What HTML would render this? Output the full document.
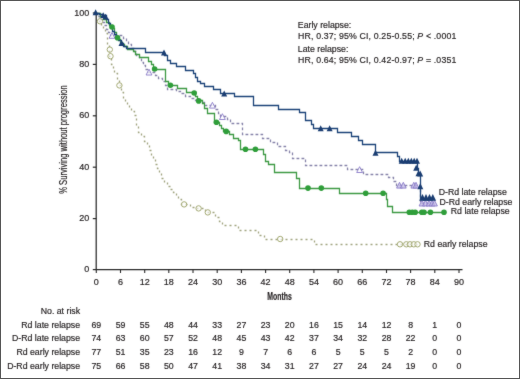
<!DOCTYPE html>
<html><head><meta charset="utf-8"><style>
html,body{margin:0;padding:0;background:#fff;}
svg{display:block;}
text{font-family:"Liberation Sans",sans-serif;font-size:8.75px;fill:#231f20;stroke:#231f20;stroke-width:0.18px;}
</style></head><body>
<svg width="520" height="379" viewBox="0 0 520 379">
<defs><filter id="bl" x="0" y="0" width="520" height="379" filterUnits="userSpaceOnUse" color-interpolation-filters="sRGB"><feConvolveMatrix order="3" kernelMatrix="0.015 0.06 0.015 0.06 0.7 0.06 0.015 0.06 0.015" edgeMode="duplicate"/></filter></defs>
<g filter="url(#bl)">
<rect x="0" y="0" width="520" height="379" fill="#fff"/>
<path d="M96.2,13 V269.5 H462.5" fill="none" stroke="#2a2a2a" stroke-width="1.25"/>
<path d="M92.8,13.0 H96.2" stroke="#2a2a2a" stroke-width="1.2"/>
<text x="89.2" y="15.6" text-anchor="end" style="font-size:9px">100</text>
<path d="M92.8,64.4 H96.2" stroke="#2a2a2a" stroke-width="1.2"/>
<text x="89.2" y="67.0" text-anchor="end" style="font-size:9px">80</text>
<path d="M92.8,115.8 H96.2" stroke="#2a2a2a" stroke-width="1.2"/>
<text x="89.2" y="118.4" text-anchor="end" style="font-size:9px">60</text>
<path d="M92.8,167.2 H96.2" stroke="#2a2a2a" stroke-width="1.2"/>
<text x="89.2" y="169.8" text-anchor="end" style="font-size:9px">40</text>
<path d="M92.8,218.6 H96.2" stroke="#2a2a2a" stroke-width="1.2"/>
<text x="89.2" y="221.2" text-anchor="end" style="font-size:9px">20</text>
<path d="M92.8,269.6 H96.2" stroke="#2a2a2a" stroke-width="1.2"/>
<text x="89.2" y="272.2" text-anchor="end" style="font-size:9px">0</text>
<path d="M96.3,270 V273" stroke="#2a2a2a" stroke-width="1.1"/>
<text x="96.3" y="285.2" text-anchor="middle" style="font-size:9px">0</text>
<path d="M120.5,270 V273" stroke="#2a2a2a" stroke-width="1.1"/>
<text x="120.5" y="285.2" text-anchor="middle" style="font-size:9px">6</text>
<path d="M144.7,270 V273" stroke="#2a2a2a" stroke-width="1.1"/>
<text x="144.7" y="285.2" text-anchor="middle" style="font-size:9px">12</text>
<path d="M168.8,270 V273" stroke="#2a2a2a" stroke-width="1.1"/>
<text x="168.8" y="285.2" text-anchor="middle" style="font-size:9px">18</text>
<path d="M193.0,270 V273" stroke="#2a2a2a" stroke-width="1.1"/>
<text x="193.0" y="285.2" text-anchor="middle" style="font-size:9px">24</text>
<path d="M217.2,270 V273" stroke="#2a2a2a" stroke-width="1.1"/>
<text x="217.2" y="285.2" text-anchor="middle" style="font-size:9px">30</text>
<path d="M241.4,270 V273" stroke="#2a2a2a" stroke-width="1.1"/>
<text x="241.4" y="285.2" text-anchor="middle" style="font-size:9px">36</text>
<path d="M265.6,270 V273" stroke="#2a2a2a" stroke-width="1.1"/>
<text x="265.6" y="285.2" text-anchor="middle" style="font-size:9px">42</text>
<path d="M289.7,270 V273" stroke="#2a2a2a" stroke-width="1.1"/>
<text x="289.7" y="285.2" text-anchor="middle" style="font-size:9px">48</text>
<path d="M313.9,270 V273" stroke="#2a2a2a" stroke-width="1.1"/>
<text x="313.9" y="285.2" text-anchor="middle" style="font-size:9px">54</text>
<path d="M338.1,270 V273" stroke="#2a2a2a" stroke-width="1.1"/>
<text x="338.1" y="285.2" text-anchor="middle" style="font-size:9px">60</text>
<path d="M362.3,270 V273" stroke="#2a2a2a" stroke-width="1.1"/>
<text x="362.3" y="285.2" text-anchor="middle" style="font-size:9px">66</text>
<path d="M386.5,270 V273" stroke="#2a2a2a" stroke-width="1.1"/>
<text x="386.5" y="285.2" text-anchor="middle" style="font-size:9px">72</text>
<path d="M410.6,270 V273" stroke="#2a2a2a" stroke-width="1.1"/>
<text x="410.6" y="285.2" text-anchor="middle" style="font-size:9px">78</text>
<path d="M434.8,270 V273" stroke="#2a2a2a" stroke-width="1.1"/>
<text x="434.8" y="285.2" text-anchor="middle" style="font-size:9px">84</text>
<path d="M459.0,270 V273" stroke="#2a2a2a" stroke-width="1.1"/>
<text x="459.0" y="285.2" text-anchor="middle" style="font-size:9px">90</text>
<text x="267.3" y="299.6" style="font-size:10.6px" font-weight="bold" textLength="24.5" lengthAdjust="spacingAndGlyphs" fill="#222">Months</text>
<text transform="translate(66.6,193.8) rotate(-90)" x="0" y="0" style="font-size:11px" textLength="108.5" lengthAdjust="spacingAndGlyphs" fill="#2a2a2a" stroke="#2a2a2a" stroke-width="0.3">% Surviving without progression</text>
<text x="297.8" y="27.6">Early relapse:</text>
<text x="298" y="38.6" textLength="158.3">HR, 0.37; 95% CI, 0.25-0.55; <tspan font-style="italic">P</tspan> &lt; .0001</text>
<text x="297.8" y="52">Late relapse:</text>
<text x="298" y="62.5" textLength="158.3">HR, 0.64; 95% CI, 0.42-0.97; <tspan font-style="italic">P</tspan> = .0351</text>
<polyline points="96.5,13.5 97.5,13.5 97.5,16.5 99.5,16.5 99.5,21.5 101.5,21.5 101.5,26.5 103.5,26.5 103.5,29.5 105.5,29.5 105.5,33.5 107.5,33.5 107.5,45.5 109.5,45.5 109.5,56.5 111.5,56.5 111.5,64.5 113.5,64.5 113.5,69.5 114.5,69.5 114.5,73.5 117.5,73.5 117.5,79.5 119.5,79.5 119.5,85.5 121.5,85.5 121.5,92.5 123.5,92.5 123.5,99.5 125.5,99.5 125.5,102.5 127.5,102.5 127.5,105.5 129.5,105.5 129.5,108.5 131.5,108.5 131.5,111.5 134.5,111.5 134.5,115.5 136.5,115.5 136.5,125.5 138.5,125.5 138.5,132.5 141.5,132.5 141.5,136.5 144.5,136.5 144.5,141.5 147.5,141.5 147.5,145.5 149.5,145.5 149.5,150.5 151.5,150.5 151.5,155.5 153.5,155.5 153.5,159.5 155.5,159.5 155.5,164.5 157.5,164.5 157.5,168.5 159.5,168.5 159.5,173.5 161.5,173.5 161.5,178.5 164.5,178.5 164.5,182.5 167.5,182.5 167.5,186.5 170.5,186.5 170.5,189.5 173.5,189.5 173.5,192.5 176.5,192.5 176.5,196.5 178.5,196.5 178.5,199.5 181.5,199.5 181.5,204.5 190.5,204.5 190.5,207.5 196.5,207.5 196.5,208.5 205.5,208.5 205.5,212.5 215.5,212.5 215.5,217.5 219.5,217.5 219.5,221.5 222.5,221.5 222.5,225.5 238.5,225.5 238.5,230.5 258.5,230.5 258.5,235.5 264.5,235.5 264.5,239.5 314.5,239.5 314.5,244.5 420.5,244.5" fill="none" stroke="#a2a581" stroke-width="1.35" stroke-dasharray="2 3"/>
<polyline points="96.5,13.5 98.5,13.5 98.5,16.5 100.5,16.5 100.5,19.5 102.5,19.5 102.5,22.5 104.5,22.5 104.5,25.5 106.5,25.5 106.5,29.5 108.5,29.5 108.5,32.5 110.5,32.5 110.5,35.5 123.5,35.5 123.5,38.5 126.5,38.5 126.5,41.5 128.5,41.5 128.5,44.5 131.5,44.5 131.5,48.5 134.5,48.5 134.5,51.5 136.5,51.5 136.5,55.5 139.5,55.5 139.5,58.5 141.5,58.5 141.5,62.5 143.5,62.5 143.5,65.5 145.5,65.5 145.5,69.5 147.5,69.5 147.5,72.5 155.5,72.5 155.5,75.5 158.5,75.5 158.5,78.5 162.5,78.5 162.5,81.5 165.5,81.5 165.5,85.5 167.5,85.5 167.5,89.5 176.5,89.5 176.5,91.5 180.5,91.5 180.5,93.5 185.5,93.5 185.5,96.5 190.5,96.5 190.5,98.5 195.5,98.5 195.5,100.5 200.5,100.5 200.5,102.5 204.5,102.5 204.5,105.5 215.5,105.5 215.5,109.5 218.5,109.5 218.5,113.5 220.5,113.5 220.5,116.5 227.5,116.5 227.5,119.5 230.5,119.5 230.5,123.5 242.5,123.5 242.5,134.5 262.5,134.5 262.5,138.5 270.5,138.5 270.5,142.5 277.5,142.5 277.5,146.5 285.5,146.5 285.5,150.5 289.5,150.5 289.5,152.5 292.5,152.5 292.5,158.5 305.5,158.5 305.5,165.5 347.5,165.5 347.5,169.5 363.5,169.5 363.5,174.5 388.5,174.5 388.5,177.5 393.5,177.5 393.5,181.5 396.5,181.5 396.5,185.5 420.5,185.5 420.5,203.5 435.5,203.5" fill="none" stroke="#8784aa" stroke-width="1.3" stroke-dasharray="2.8 2.2"/>
<polyline points="96.5,13.5 100.5,13.5 100.5,16.5 103.5,16.5 103.5,19.5 106.5,19.5 106.5,22.5 109.5,22.5 109.5,25.5 112.5,25.5 112.5,28.5 114.5,28.5 114.5,32.5 116.5,32.5 116.5,36.5 118.5,36.5 118.5,39.5 120.5,39.5 120.5,42.5 122.5,42.5 122.5,44.5 124.5,44.5 124.5,46.5 127.5,46.5 127.5,49.5 133.5,49.5 133.5,51.5 135.5,51.5 135.5,54.5 139.5,54.5 139.5,57.5 148.5,57.5 148.5,61.5 151.5,61.5 151.5,64.5 153.5,64.5 153.5,69.5 165.5,69.5 165.5,81.5 168.5,81.5 168.5,85.5 177.5,85.5 177.5,88.5 186.5,88.5 186.5,92.5 195.5,92.5 195.5,96.5 197.5,96.5 197.5,100.5 202.5,100.5 202.5,103.5 204.5,103.5 204.5,108.5 207.5,108.5 207.5,113.5 214.5,113.5 214.5,122.5 219.5,122.5 219.5,125.5 221.5,125.5 221.5,128.5 223.5,128.5 223.5,131.5 229.5,131.5 229.5,134.5 233.5,134.5 233.5,138.5 238.5,138.5 238.5,140.5 240.5,140.5 240.5,149.5 263.5,149.5 263.5,154.5 265.5,154.5 265.5,161.5 268.5,161.5 268.5,164.5 274.5,164.5 274.5,172.5 296.5,172.5 296.5,178.5 299.5,178.5 299.5,188.5 339.5,188.5 339.5,193.5 386.5,193.5 386.5,199.5 387.5,199.5 387.5,206.5 392.5,206.5 392.5,212.5 444.5,212.5" fill="none" stroke="#3f9a45" stroke-width="1.3"/>
<polyline points="96.5,13.5 99.5,13.5 99.5,14.5 103.5,14.5 103.5,15.5 106.5,15.5 106.5,19.5 108.5,19.5 108.5,23.5 110.5,23.5 110.5,27.5 112.5,27.5 112.5,31.5 114.5,31.5 114.5,34.5 116.5,34.5 116.5,37.5 118.5,37.5 118.5,40.5 121.5,40.5 121.5,43.5 123.5,43.5 123.5,46.5 126.5,46.5 126.5,48.5 145.5,48.5 145.5,52.5 164.5,52.5 164.5,55.5 167.5,55.5 167.5,60.5 170.5,60.5 170.5,63.5 176.5,63.5 176.5,66.5 185.5,66.5 185.5,70.5 193.5,70.5 193.5,73.5 195.5,73.5 195.5,77.5 197.5,77.5 197.5,81.5 200.5,81.5 200.5,83.5 204.5,83.5 204.5,86.5 213.5,86.5 213.5,89.5 220.5,89.5 220.5,93.5 234.5,93.5 234.5,96.5 253.5,96.5 253.5,105.5 278.5,105.5 278.5,109.5 299.5,109.5 299.5,112.5 305.5,112.5 305.5,120.5 311.5,120.5 311.5,124.5 313.5,124.5 313.5,128.5 337.5,128.5 337.5,132.5 351.5,132.5 351.5,136.5 358.5,136.5 358.5,140.5 362.5,140.5 362.5,144.5 375.5,144.5 375.5,152.5 397.5,152.5 397.5,156.5 399.5,156.5 399.5,161.5 417.5,161.5 417.5,168.5 418.5,168.5 418.5,173.5 420.5,173.5 420.5,199.5 433.5,199.5" fill="none" stroke="#1d4479" stroke-width="1.3"/>
<circle cx="100" cy="21.3" r="2.7" fill="#fff" fill-opacity="0.6" stroke="#a4aa74" stroke-width="1"/>
<circle cx="109.8" cy="49.6" r="2.7" fill="#fff" fill-opacity="0.6" stroke="#a4aa74" stroke-width="1"/>
<circle cx="110.5" cy="56.2" r="2.7" fill="#fff" fill-opacity="0.6" stroke="#a4aa74" stroke-width="1"/>
<circle cx="119.4" cy="85.4" r="2.7" fill="#fff" fill-opacity="0.6" stroke="#a4aa74" stroke-width="1"/>
<circle cx="184.1" cy="204.4" r="2.7" fill="#fff" fill-opacity="0.6" stroke="#a4aa74" stroke-width="1"/>
<circle cx="198.6" cy="208.4" r="2.7" fill="#fff" fill-opacity="0.6" stroke="#a4aa74" stroke-width="1"/>
<circle cx="207.8" cy="212.4" r="2.7" fill="#fff" fill-opacity="0.6" stroke="#a4aa74" stroke-width="1"/>
<circle cx="280.2" cy="239" r="2.7" fill="#fff" fill-opacity="0.6" stroke="#a4aa74" stroke-width="1"/>
<circle cx="400" cy="244.3" r="2.7" fill="#fff" fill-opacity="0.6" stroke="#a4aa74" stroke-width="1"/>
<circle cx="406.3" cy="244.3" r="2.7" fill="#fff" fill-opacity="0.6" stroke="#a4aa74" stroke-width="1"/>
<circle cx="410" cy="244.3" r="2.7" fill="#fff" fill-opacity="0.6" stroke="#a4aa74" stroke-width="1"/>
<circle cx="413.8" cy="244.3" r="2.7" fill="#fff" fill-opacity="0.6" stroke="#a4aa74" stroke-width="1"/>
<circle cx="417.5" cy="244.3" r="2.7" fill="#fff" fill-opacity="0.6" stroke="#a4aa74" stroke-width="1"/>
<path d="M109.1,38.3L112.0,32.5L114.9,38.3Z" fill="#fff" fill-opacity="0.7" stroke="#8a7cc8" stroke-width="0.9"/>
<path d="M146.1,75.0L149.0,69.2L151.9,75.0Z" fill="#fff" fill-opacity="0.7" stroke="#8a7cc8" stroke-width="0.9"/>
<path d="M209.5,108.1L212.4,102.3L215.3,108.1Z" fill="#fff" fill-opacity="0.7" stroke="#8a7cc8" stroke-width="0.9"/>
<path d="M219.5,119.5L222.4,113.7L225.3,119.5Z" fill="#fff" fill-opacity="0.7" stroke="#8a7cc8" stroke-width="0.9"/>
<path d="M356.7,172.5L359.6,166.7L362.5,172.5Z" fill="#fff" fill-opacity="0.7" stroke="#8a7cc8" stroke-width="0.9"/>
<path d="M396.6,188.1L399.5,182.3L402.4,188.1Z" fill="#bfb6e4" fill-opacity="0.7" stroke="#8a7cc8" stroke-width="0.9"/>
<path d="M400.4,188.1L403.3,182.3L406.2,188.1Z" fill="#bfb6e4" fill-opacity="0.7" stroke="#8a7cc8" stroke-width="0.9"/>
<path d="M410.9,188.1L413.8,182.3L416.7,188.1Z" fill="#bfb6e4" fill-opacity="0.7" stroke="#8a7cc8" stroke-width="0.9"/>
<path d="M413.1,188.1L416.0,182.3L418.9,188.1Z" fill="#bfb6e4" fill-opacity="0.7" stroke="#8a7cc8" stroke-width="0.9"/>
<path d="M419.1,206.0L422.0,200.2L424.9,206.0Z" fill="#bfb6e4" fill-opacity="0.7" stroke="#8a7cc8" stroke-width="0.9"/>
<path d="M422.6,206.0L425.5,200.2L428.4,206.0Z" fill="#bfb6e4" fill-opacity="0.7" stroke="#8a7cc8" stroke-width="0.9"/>
<path d="M426.1,206.0L429.0,200.2L431.9,206.0Z" fill="#bfb6e4" fill-opacity="0.7" stroke="#8a7cc8" stroke-width="0.9"/>
<path d="M429.1,206.0L432.0,200.2L434.9,206.0Z" fill="#bfb6e4" fill-opacity="0.7" stroke="#8a7cc8" stroke-width="0.9"/>
<path d="M431.6,206.0L434.5,200.2L437.4,206.0Z" fill="#bfb6e4" fill-opacity="0.7" stroke="#8a7cc8" stroke-width="0.9"/>
<circle cx="112" cy="27" r="2.8" fill="#2f9e3a"/>
<circle cx="117.5" cy="37.8" r="2.8" fill="#2f9e3a"/>
<circle cx="154.6" cy="69" r="2.8" fill="#2f9e3a"/>
<circle cx="170.4" cy="85.2" r="2.8" fill="#2f9e3a"/>
<circle cx="194.2" cy="93" r="2.8" fill="#2f9e3a"/>
<circle cx="198.7" cy="100.9" r="2.8" fill="#2f9e3a"/>
<circle cx="216.4" cy="122.3" r="2.8" fill="#2f9e3a"/>
<circle cx="226.2" cy="131.4" r="2.8" fill="#2f9e3a"/>
<circle cx="245.5" cy="149.3" r="2.8" fill="#2f9e3a"/>
<circle cx="255.4" cy="149.3" r="2.8" fill="#2f9e3a"/>
<circle cx="308" cy="188.1" r="2.8" fill="#2f9e3a"/>
<circle cx="321.3" cy="188.1" r="2.8" fill="#2f9e3a"/>
<circle cx="365.7" cy="193.3" r="2.8" fill="#2f9e3a"/>
<circle cx="383.1" cy="193.3" r="2.8" fill="#2f9e3a"/>
<circle cx="409.3" cy="212.3" r="2.8" fill="#2f9e3a"/>
<circle cx="412.3" cy="212.3" r="2.8" fill="#2f9e3a"/>
<circle cx="415.2" cy="212.3" r="2.8" fill="#2f9e3a"/>
<circle cx="421.8" cy="212.3" r="2.8" fill="#2f9e3a"/>
<circle cx="424" cy="212.3" r="2.8" fill="#2f9e3a"/>
<circle cx="430.4" cy="212.3" r="2.8" fill="#2f9e3a"/>
<circle cx="444" cy="212.3" r="2.8" fill="#2f9e3a"/>
<path d="M92.6,15.2L95.6,9.2L98.6,15.2Z" fill="#1a3d72"/>
<path d="M100.2,18.1L103.2,12.2L106.2,18.1Z" fill="#1a3d72"/>
<path d="M102.6,19.6L105.6,13.7L108.6,19.6Z" fill="#1a3d72"/>
<path d="M118.5,45.9L121.5,39.9L124.5,45.9Z" fill="#1a3d72"/>
<path d="M161.0,55.4L164.0,49.4L167.0,55.4Z" fill="#1a3d72"/>
<path d="M221.2,96.6L224.2,90.6L227.2,96.6Z" fill="#1a3d72"/>
<path d="M317.7,131.2L320.7,125.2L323.7,131.2Z" fill="#1a3d72"/>
<path d="M326.6,131.2L329.6,125.2L332.6,131.2Z" fill="#1a3d72"/>
<path d="M372.5,155.7L375.5,149.7L378.5,155.7Z" fill="#1a3d72"/>
<path d="M398.7,163.8L401.7,157.8L404.7,163.8Z" fill="#1a3d72"/>
<path d="M402.2,163.8L405.2,157.8L408.2,163.8Z" fill="#1a3d72"/>
<path d="M405.3,163.8L408.3,157.8L411.3,163.8Z" fill="#1a3d72"/>
<path d="M408.3,163.8L411.3,157.8L414.3,163.8Z" fill="#1a3d72"/>
<path d="M411.2,163.8L414.2,157.8L417.2,163.8Z" fill="#1a3d72"/>
<path d="M414.0,163.8L417.0,157.8L420.0,163.8Z" fill="#1a3d72"/>
<path d="M413.2,170.8L416.2,164.8L419.2,170.8Z" fill="#1a3d72"/>
<path d="M415.5,176.2L418.5,170.2L421.5,176.2Z" fill="#1a3d72"/>
<path d="M417.2,176.4L420.2,170.4L423.2,176.4Z" fill="#1a3d72"/>
<path d="M417.3,189.3L420.3,183.3L423.3,189.3Z" fill="#1a3d72"/>
<path d="M419.2,200.7L422.5,194.1L425.8,200.7Z" fill="#1a3d72"/>
<path d="M422.7,200.7L426.0,194.1L429.3,200.7Z" fill="#1a3d72"/>
<path d="M426.2,200.7L429.5,194.1L432.8,200.7Z" fill="#1a3d72"/>
<path d="M429.5,200.7L432.8,194.1L436.1,200.7Z" fill="#1a3d72"/>
<text x="438.7" y="194.5">D-Rd late relapse</text>
<text x="439.5" y="205.4">D-Rd early relapse</text>
<text x="450.8" y="214.4">Rd late relapse</text>
<text x="423.8" y="246.9">Rd early relapse</text>
<text x="80.1" y="314.3" text-anchor="end">No. at risk</text>
<text x="80.1" y="327.5" text-anchor="end">Rd late relapse</text>
<text x="96.3" y="327.5" text-anchor="middle">69</text>
<text x="120.5" y="327.5" text-anchor="middle">59</text>
<text x="144.7" y="327.5" text-anchor="middle">55</text>
<text x="168.8" y="327.5" text-anchor="middle">48</text>
<text x="193.0" y="327.5" text-anchor="middle">44</text>
<text x="217.2" y="327.5" text-anchor="middle">33</text>
<text x="241.4" y="327.5" text-anchor="middle">27</text>
<text x="265.6" y="327.5" text-anchor="middle">23</text>
<text x="289.7" y="327.5" text-anchor="middle">20</text>
<text x="313.9" y="327.5" text-anchor="middle">16</text>
<text x="338.1" y="327.5" text-anchor="middle">15</text>
<text x="362.3" y="327.5" text-anchor="middle">14</text>
<text x="386.5" y="327.5" text-anchor="middle">12</text>
<text x="410.6" y="327.5" text-anchor="middle">8</text>
<text x="434.8" y="327.5" text-anchor="middle">1</text>
<text x="459.0" y="327.5" text-anchor="middle">0</text>
<text x="80.1" y="341.2" text-anchor="end">D-Rd late relapse</text>
<text x="96.3" y="341.2" text-anchor="middle">74</text>
<text x="120.5" y="341.2" text-anchor="middle">63</text>
<text x="144.7" y="341.2" text-anchor="middle">60</text>
<text x="168.8" y="341.2" text-anchor="middle">57</text>
<text x="193.0" y="341.2" text-anchor="middle">52</text>
<text x="217.2" y="341.2" text-anchor="middle">48</text>
<text x="241.4" y="341.2" text-anchor="middle">45</text>
<text x="265.6" y="341.2" text-anchor="middle">43</text>
<text x="289.7" y="341.2" text-anchor="middle">42</text>
<text x="313.9" y="341.2" text-anchor="middle">37</text>
<text x="338.1" y="341.2" text-anchor="middle">34</text>
<text x="362.3" y="341.2" text-anchor="middle">32</text>
<text x="386.5" y="341.2" text-anchor="middle">28</text>
<text x="410.6" y="341.2" text-anchor="middle">22</text>
<text x="434.8" y="341.2" text-anchor="middle">0</text>
<text x="459.0" y="341.2" text-anchor="middle">0</text>
<text x="80.1" y="355.0" text-anchor="end">Rd early relapse</text>
<text x="96.3" y="355.0" text-anchor="middle">77</text>
<text x="120.5" y="355.0" text-anchor="middle">51</text>
<text x="144.7" y="355.0" text-anchor="middle">35</text>
<text x="168.8" y="355.0" text-anchor="middle">23</text>
<text x="193.0" y="355.0" text-anchor="middle">16</text>
<text x="217.2" y="355.0" text-anchor="middle">12</text>
<text x="241.4" y="355.0" text-anchor="middle">9</text>
<text x="265.6" y="355.0" text-anchor="middle">7</text>
<text x="289.7" y="355.0" text-anchor="middle">6</text>
<text x="313.9" y="355.0" text-anchor="middle">6</text>
<text x="338.1" y="355.0" text-anchor="middle">5</text>
<text x="362.3" y="355.0" text-anchor="middle">5</text>
<text x="386.5" y="355.0" text-anchor="middle">5</text>
<text x="410.6" y="355.0" text-anchor="middle">2</text>
<text x="434.8" y="355.0" text-anchor="middle">0</text>
<text x="459.0" y="355.0" text-anchor="middle">0</text>
<text x="80.1" y="368.7" text-anchor="end">D-Rd early relapse</text>
<text x="96.3" y="368.7" text-anchor="middle">75</text>
<text x="120.5" y="368.7" text-anchor="middle">66</text>
<text x="144.7" y="368.7" text-anchor="middle">58</text>
<text x="168.8" y="368.7" text-anchor="middle">50</text>
<text x="193.0" y="368.7" text-anchor="middle">47</text>
<text x="217.2" y="368.7" text-anchor="middle">41</text>
<text x="241.4" y="368.7" text-anchor="middle">38</text>
<text x="265.6" y="368.7" text-anchor="middle">34</text>
<text x="289.7" y="368.7" text-anchor="middle">31</text>
<text x="313.9" y="368.7" text-anchor="middle">27</text>
<text x="338.1" y="368.7" text-anchor="middle">27</text>
<text x="362.3" y="368.7" text-anchor="middle">24</text>
<text x="386.5" y="368.7" text-anchor="middle">24</text>
<text x="410.6" y="368.7" text-anchor="middle">19</text>
<text x="434.8" y="368.7" text-anchor="middle">0</text>
<text x="459.0" y="368.7" text-anchor="middle">0</text>
</g>
<rect x="0.5" y="0.5" width="519" height="378" fill="none" stroke="#555" stroke-width="1"/>
</svg>
</body></html>
